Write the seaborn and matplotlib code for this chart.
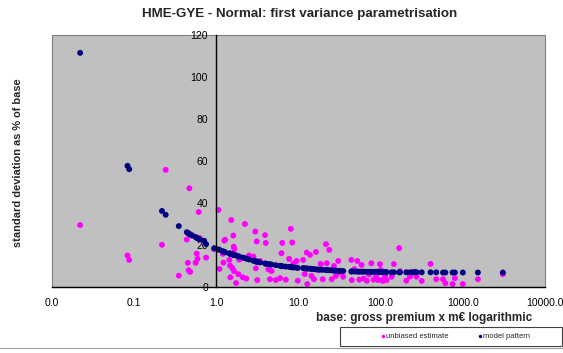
import numpy as np
import pandas as pd
import matplotlib
matplotlib.use("Agg")
import matplotlib.pyplot as plt
import seaborn as sns
from matplotlib.patches import Rectangle
from matplotlib.lines import Line2D

# ---- data ----
base = [0.022, 0.083, 0.087, 0.218, 0.242, 0.349, 0.437, 0.45, 0.46, 0.47,
        0.48, 0.506, 0.56, 0.578, 0.59, 0.61, 0.63, 0.71, 0.75, 0.94,
        1.06, 1.09, 1.2, 1.22, 1.25, 1.28, 1.44, 1.47, 1.48, 1.52,
        1.57, 1.61, 1.63, 1.64, 1.66, 1.74, 1.85, 1.9, 2.1, 2.23,
        2.32, 2.5, 2.82, 2.98, 3.03, 3.1, 3.15, 3.4, 3.92, 4.0,
        4.3, 4.5, 4.7, 5.3, 5.96, 6.2, 6.35, 7.0, 7.7, 8.05,
        8.4, 8.7, 9.5, 9.8, 11.4, 11.9, 12.6, 12.8, 13.8, 14.4,
        15.4, 16.3, 17.5, 18.6, 19.7, 21.6, 22.1, 23.7, 25.4, 27.0,
        28.5, 30.5, 32.0, 35.0, 44.0, 44.5, 48.0, 52.0, 55.0, 58.5,
        62.0, 68.0, 72.0, 77.0, 82.0, 88.0, 93.0, 98.0, 100, 103,
        107, 113, 118, 136, 145, 168, 172, 205, 227, 245,
        263, 273, 316, 405, 474, 574, 613, 750, 800, 1000,
        1525, 3070]
unbiased = [29.5, 15.0, 12.9, 20.1, 55.8, 5.4, 22.6, 11.5, 8.0, 47.0,
            7.2, 24.5, 11.5, 15.9, 13.4, 35.7, 23.3, 21.5, 14.0, 18.0,
            36.7, 8.6, 15.8, 11.6, 22.1, 22.5, 12.9, 10.2, 4.6, 31.9,
            9.0, 24.5, 19.2, 7.6, 18.0, 1.9, 6.1, 13.0, 4.6, 30.0,
            4.0, 15.0, 14.5, 26.4, 8.9, 21.7, 3.3, 12.4, 24.7, 21.0,
            8.4, 3.7, 7.6, 3.3, 4.2, 16.1, 21.0, 3.5, 13.4, 27.7,
            21.2, 11.3, 12.4, 3.0, 12.9, 6.2, 16.4, 1.4, 15.3, 5.3,
            3.7, 16.7, 8.0, 11.0, 3.7, 20.4, 11.3, 17.7, 3.7, 10.0,
            5.3, 12.4, 7.0, 4.9, 12.9, 3.3, 8.5, 12.4, 3.5, 10.5,
            4.0, 3.0, 6.0, 11.3, 3.5, 5.0, 3.3, 10.9, 8.1, 3.3,
            2.9, 5.5, 3.3, 4.9, 10.9, 18.5, 7.5, 3.0, 4.9, 7.0,
            7.3, 4.9, 2.9, 11.0, 3.7, 3.7, 1.8, 1.4, 4.2, 1.4,
            3.7, 6.1]
model = [111.5, 57.7, 56.1, 36.2, 34.4, 29.0, 26.1, 25.8, 25.5, 25.3,
         25.0, 24.6, 23.8, 23.4, 23.2, 22.9, 22.6, 22.0, 20.4, 18.5,
         17.9, 17.7, 17.0, 16.9, 16.7, 16.5, 16.0, 15.9, 15.8, 15.7,
         15.5, 15.4, 15.3, 15.3, 15.2, 15.0, 14.6, 14.5, 14.0, 13.7,
         13.5, 13.1, 12.5, 12.3, 12.2, 12.1, 12.0, 11.7, 11.2, 11.1,
         10.9, 10.8, 10.7, 10.4, 10.1, 10.0, 9.9, 9.7, 9.6, 9.5,
         9.4, 9.3, 9.2, 9.1, 9.0, 8.9, 8.8, 8.8, 8.7, 8.6,
         8.5, 8.4, 8.3, 8.3, 8.2, 8.1, 8.1, 8.0, 7.9, 7.8,
         7.8, 7.7, 7.7, 7.6, 7.4, 7.4, 7.4, 7.3, 7.3, 7.3,
         7.3, 7.2, 7.2, 7.2, 7.2, 7.2, 7.2, 7.1, 7.1, 7.1,
         7.1, 7.1, 7.1, 7.0, 7.0, 7.0, 7.0, 7.0, 7.0, 7.0,
         7.0, 7.0, 7.0, 7.0, 7.0, 6.9, 6.9, 6.9, 6.9, 6.9,
         6.9, 6.9]
series_names = ["unbiased estimate", "model pattern"]
x_ticks = [0.01, 0.1, 1, 10, 100, 1000, 10000]
x_tick_labels = ["0.0", "0.1", "1.0", "10.0", "100.0", "1000.0", "10000.0"]
y_ticks = [0, 20, 40, 60, 80, 100, 120]

df = pd.concat([
    pd.DataFrame({"base": base, "value": unbiased, "series": series_names[0]}),
    pd.DataFrame({"base": base, "value": model, "series": series_names[1]}),
], ignore_index=True)

sns.set_style("white")
plt.rcParams["font.family"] = ["Liberation Sans", "DejaVu Sans"]

W, H = 563, 353
fig = plt.figure(figsize=(W / 100, H / 100), dpi=100)
ax = fig.add_axes([52 / W, 1 - 287 / H, (545 - 52) / W, (287 - 35) / H])
ax.set_facecolor("#C0C0C0")

colors = {series_names[0]: "#FF00FF", series_names[1]: "#000080"}
sns.scatterplot(data=df, x="base", y="value", hue="series", palette=colors,
                s=18, linewidth=0, legend=False, ax=ax)

ax.set_xscale("log")
ax.set_xlim(0.01, 10000)
ax.set_ylim(0, 120)
ax.set_xticks(x_ticks)
ax.set_xticklabels(x_tick_labels)
ax.xaxis.set_minor_locator(matplotlib.ticker.NullLocator())
ax.set_yticks(y_ticks)
ax.set_yticklabels([str(v) for v in y_ticks])
ax.set_xlabel("")
ax.set_ylabel("")

for s in ["top", "right"]:
    ax.spines[s].set_visible(False)
ax.spines["left"].set_position(("data", 1))
ax.spines["left"].set_color("black")
ax.spines["left"].set_linewidth(1.0)
ax.spines["bottom"].set_color("black")
ax.spines["bottom"].set_linewidth(1.0)
ax.tick_params(axis="both", which="major", direction="out", length=4, width=0.8,
               color="black", labelsize=7.5, labelcolor="black", pad=2)
ax.tick_params(axis="x", pad=4)
ax.add_patch(Rectangle((0, 0), 1, 1, transform=ax.transAxes, fill=False,
                       edgecolor="#808080", linewidth=0.8, clip_on=False, zorder=0.5))

fig.text(300 / W, 1 - 14 / H, "HME-GYE - Normal: first variance parametrisation",
         ha="center", va="center", fontsize=9.6, fontweight="bold")
fig.text(532 / W, 1 - 318 / H, "base: gross premium x m€ logarithmic",
         ha="right", va="center", fontsize=8.5, fontweight="bold")
fig.text(18 / W, 1 - 163 / H, "standard deviation as % of base", rotation=90,
         ha="center", va="center", fontsize=7.9, fontweight="bold")

# legend box
fig.add_artist(Rectangle((340 / W, 1 - 346 / H), 222 / W, 19 / H,
                         transform=fig.transFigure, facecolor="white",
                         edgecolor="#404040", linewidth=0.8))
handles = [Line2D([], [], marker="o", linestyle="", markersize=2.5,
                  markerfacecolor=colors[n], markeredgewidth=0) for n in series_names]
leg = fig.legend(handles, series_names, ncol=2, loc="center",
                 bbox_to_anchor=(455 / W, 1 - 336.5 / H), frameon=False,
                 fontsize=5.5, handlelength=0.6, handletextpad=0.1,
                 columnspacing=3.8, borderpad=0.0, borderaxespad=0)

fig.add_artist(Line2D([0, 1], [1 - 347.5 / H, 1 - 347.5 / H], transform=fig.transFigure,
                      color="#A0A0A0", linewidth=0.8))

fig.savefig("out.png", dpi=100, facecolor="white")
